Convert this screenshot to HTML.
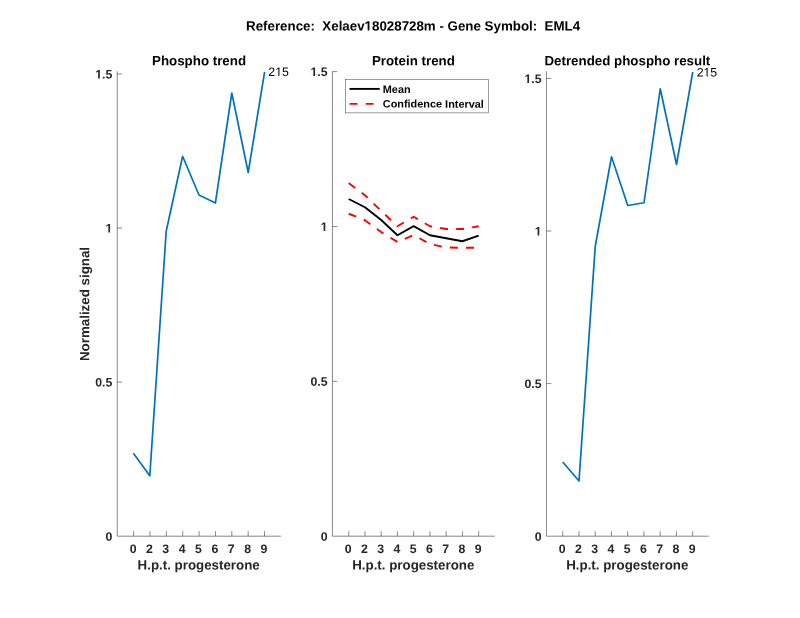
<!DOCTYPE html>
<html><head><meta charset="utf-8"><title>Reference: Xelaev18028728m - Gene Symbol: EML4</title>
<style>html,body{margin:0;padding:0;background:#fff;}body{width:800px;height:618px;overflow:hidden;}svg{display:block;}text{font-family:"Liberation Sans", Arial, Helvetica, sans-serif;}.b{font-weight:bold;}.t{font-size:12.3px;fill:#262626;font-weight:bold;}.l{font-size:13.33px;fill:#262626;font-weight:bold;}.k{fill:#000}</style></head><body>
<svg width="800" height="618" viewBox="0 0 800 618">
<rect width="800" height="618" fill="#fff"/>
<g transform="rotate(0.03 413.10 30.50)"><text x="413.10" y="30.50" class="l k" text-anchor="middle" style="white-space:pre">Reference:  Xelaev18028728m - Gene Symbol:  EML4</text><rect x="365.016" y="28.790" width="2.672" height="2.510" fill="#fff"/><rect x="369.517" y="28.790" width="2.502" height="2.510" fill="#fff"/></g>
<g stroke="#262626" stroke-width="0.55" fill="none">
<path d="M117.25 71.3V536.2H280.9"/>
<path d="M133.62 536.2v-5.1M149.98 536.2v-5.1M166.34 536.2v-5.1M182.71 536.2v-5.1M199.07 536.2v-5.1M215.44 536.2v-5.1M231.81 536.2v-5.1M248.17 536.2v-5.1M264.53 536.2v-5.1M117.25 382.13h4.8M117.25 228.07h4.8M117.25 74.00h4.8"/></g>
<text x="133.06" y="553.00" transform="rotate(0.03 133.06 553.00)" class="t" text-anchor="middle">0</text>
<text x="149.43" y="553.00" transform="rotate(0.03 149.43 553.00)" class="t" text-anchor="middle">2</text>
<text x="165.79" y="553.00" transform="rotate(0.03 165.79 553.00)" class="t" text-anchor="middle">3</text>
<text x="182.16" y="553.00" transform="rotate(0.03 182.16 553.00)" class="t" text-anchor="middle">4</text>
<text x="198.52" y="553.00" transform="rotate(0.03 198.52 553.00)" class="t" text-anchor="middle">5</text>
<text x="214.89" y="553.00" transform="rotate(0.03 214.89 553.00)" class="t" text-anchor="middle">6</text>
<text x="231.25" y="553.00" transform="rotate(0.03 231.25 553.00)" class="t" text-anchor="middle">7</text>
<text x="247.62" y="553.00" transform="rotate(0.03 247.62 553.00)" class="t" text-anchor="middle">8</text>
<text x="263.98" y="553.00" transform="rotate(0.03 263.98 553.00)" class="t" text-anchor="middle">9</text>
<text x="112.35" y="540.70" transform="rotate(0.03 112.35 540.70)" class="t" text-anchor="end">0</text>
<text x="112.35" y="386.63" transform="rotate(0.03 112.35 386.63)" class="t" text-anchor="end">0.5</text>
<g transform="rotate(0.03 112.35 232.57)"><text x="112.35" y="232.57" class="t" text-anchor="end">1</text><rect x="105.881" y="230.961" width="2.496" height="2.405" fill="#fff"/><rect x="110.065" y="230.961" width="2.340" height="2.405" fill="#fff"/></g>
<g transform="rotate(0.03 112.35 78.50)"><text x="112.35" y="78.50" class="t" text-anchor="end">1.5</text><rect x="95.615" y="76.895" width="2.496" height="2.405" fill="#fff"/><rect x="99.799" y="76.895" width="2.340" height="2.405" fill="#fff"/></g>
<text x="198.67" y="569.60" transform="rotate(0.03 198.67 569.60)" class="l" text-anchor="middle">H.p.t. progesterone</text>
<text x="199.07" y="65.30" transform="rotate(0.03 199.07 65.30)" class="l k" text-anchor="middle">Phospho trend</text>
<g stroke="#262626" stroke-width="0.55" fill="none">
<path d="M332.45 71.6V536.2H494.9"/>
<path d="M348.69 536.2v-5.1M364.94 536.2v-5.1M381.19 536.2v-5.1M397.43 536.2v-5.1M413.67 536.2v-5.1M429.92 536.2v-5.1M446.16 536.2v-5.1M462.41 536.2v-5.1M478.65 536.2v-5.1M332.45 381.33h4.8M332.45 226.47h4.8M332.45 71.60h4.8"/></g>
<text x="348.14" y="553.00" transform="rotate(0.03 348.14 553.00)" class="t" text-anchor="middle">0</text>
<text x="364.39" y="553.00" transform="rotate(0.03 364.39 553.00)" class="t" text-anchor="middle">2</text>
<text x="380.63" y="553.00" transform="rotate(0.03 380.63 553.00)" class="t" text-anchor="middle">3</text>
<text x="396.88" y="553.00" transform="rotate(0.03 396.88 553.00)" class="t" text-anchor="middle">4</text>
<text x="413.12" y="553.00" transform="rotate(0.03 413.12 553.00)" class="t" text-anchor="middle">5</text>
<text x="429.37" y="553.00" transform="rotate(0.03 429.37 553.00)" class="t" text-anchor="middle">6</text>
<text x="445.61" y="553.00" transform="rotate(0.03 445.61 553.00)" class="t" text-anchor="middle">7</text>
<text x="461.86" y="553.00" transform="rotate(0.03 461.86 553.00)" class="t" text-anchor="middle">8</text>
<text x="478.10" y="553.00" transform="rotate(0.03 478.10 553.00)" class="t" text-anchor="middle">9</text>
<text x="327.55" y="540.70" transform="rotate(0.03 327.55 540.70)" class="t" text-anchor="end">0</text>
<text x="327.55" y="385.83" transform="rotate(0.03 327.55 385.83)" class="t" text-anchor="end">0.5</text>
<g transform="rotate(0.03 327.55 230.97)"><text x="327.55" y="230.97" class="t" text-anchor="end">1</text><rect x="321.081" y="229.361" width="2.496" height="2.405" fill="#fff"/><rect x="325.265" y="229.361" width="2.340" height="2.405" fill="#fff"/></g>
<g transform="rotate(0.03 327.55 76.10)"><text x="327.55" y="76.10" class="t" text-anchor="end">1.5</text><rect x="310.815" y="74.495" width="2.496" height="2.405" fill="#fff"/><rect x="314.999" y="74.495" width="2.340" height="2.405" fill="#fff"/></g>
<text x="413.27" y="569.60" transform="rotate(0.03 413.27 569.60)" class="l" text-anchor="middle">H.p.t. progesterone</text>
<text x="413.37" y="65.30" transform="rotate(0.03 413.37 65.30)" class="l k" text-anchor="middle">Protein trend</text>
<g stroke="#262626" stroke-width="0.55" fill="none">
<path d="M546.45 71.2V536.2H708.9"/>
<path d="M562.70 536.2v-5.1M578.94 536.2v-5.1M595.19 536.2v-5.1M611.43 536.2v-5.1M627.67 536.2v-5.1M643.92 536.2v-5.1M660.16 536.2v-5.1M676.41 536.2v-5.1M692.65 536.2v-5.1M546.45 383.60h4.8M546.45 231.00h4.8M546.45 78.40h4.8"/></g>
<text x="562.15" y="553.00" transform="rotate(0.03 562.15 553.00)" class="t" text-anchor="middle">0</text>
<text x="578.39" y="553.00" transform="rotate(0.03 578.39 553.00)" class="t" text-anchor="middle">2</text>
<text x="594.64" y="553.00" transform="rotate(0.03 594.64 553.00)" class="t" text-anchor="middle">3</text>
<text x="610.88" y="553.00" transform="rotate(0.03 610.88 553.00)" class="t" text-anchor="middle">4</text>
<text x="627.12" y="553.00" transform="rotate(0.03 627.12 553.00)" class="t" text-anchor="middle">5</text>
<text x="643.37" y="553.00" transform="rotate(0.03 643.37 553.00)" class="t" text-anchor="middle">6</text>
<text x="659.62" y="553.00" transform="rotate(0.03 659.62 553.00)" class="t" text-anchor="middle">7</text>
<text x="675.86" y="553.00" transform="rotate(0.03 675.86 553.00)" class="t" text-anchor="middle">8</text>
<text x="692.11" y="553.00" transform="rotate(0.03 692.11 553.00)" class="t" text-anchor="middle">9</text>
<text x="541.55" y="540.70" transform="rotate(0.03 541.55 540.70)" class="t" text-anchor="end">0</text>
<text x="541.55" y="388.10" transform="rotate(0.03 541.55 388.10)" class="t" text-anchor="end">0.5</text>
<g transform="rotate(0.03 541.55 235.50)"><text x="541.55" y="235.50" class="t" text-anchor="end">1</text><rect x="535.081" y="233.895" width="2.496" height="2.405" fill="#fff"/><rect x="539.265" y="233.895" width="2.340" height="2.405" fill="#fff"/></g>
<g transform="rotate(0.03 541.55 82.90)"><text x="541.55" y="82.90" class="t" text-anchor="end">1.5</text><rect x="524.815" y="81.295" width="2.496" height="2.405" fill="#fff"/><rect x="528.999" y="81.295" width="2.340" height="2.405" fill="#fff"/></g>
<text x="627.27" y="569.60" transform="rotate(0.03 627.27 569.60)" class="l" text-anchor="middle">H.p.t. progesterone</text>
<text x="627.38" y="65.30" transform="rotate(0.03 627.38 65.30)" class="l k" text-anchor="middle">Detrended phospho result</text>
<text x="89.25" y="304.00" transform="rotate(-89.97 89.25 304.00)" class="l" text-anchor="middle">Normalized signal</text>
<polyline points="133.40,453.25 149.80,475.75 166.20,231.25 182.60,156.25 199.00,195.00 215.40,203.00 231.80,93.00 248.20,172.50 264.60,71.80" fill="none" stroke="#0072BD" stroke-width="1.7" stroke-linejoin="round"/>
<polyline points="562.75,462.00 579.00,481.00 595.25,246.25 611.50,156.75 627.75,205.50 644.00,202.75 660.25,88.75 676.50,164.50 692.75,72.00" fill="none" stroke="#0072BD" stroke-width="1.7" stroke-linejoin="round"/>
<g transform="rotate(0.03 268.30 76.10)"><text x="268.30" y="76.10" class="k" style="font-size:12.3px">215</text><rect x="275.665" y="74.831" width="2.556" height="2.069" fill="#fff"/><rect x="279.308" y="74.831" width="2.460" height="2.069" fill="#fff"/></g>
<g transform="rotate(0.03 696.70 76.40)"><text x="696.70" y="76.40" class="k" style="font-size:12.3px">215</text><rect x="704.065" y="75.131" width="2.556" height="2.069" fill="#fff"/><rect x="707.708" y="75.131" width="2.460" height="2.069" fill="#fff"/></g>
<polyline points="348.70,199.00 364.94,207.25 381.19,220.00 397.44,235.25 413.68,226.10 429.93,235.25 446.17,238.25 462.41,241.25 478.66,235.60" fill="none" stroke="#000" stroke-width="1.9" stroke-linejoin="round"/>
<polyline points="348.70,183.10 364.94,195.25 381.19,210.90 397.44,226.25 413.68,216.80 429.93,226.25 446.17,229.00 462.41,229.00 478.66,226.25" fill="none" stroke="#f00" stroke-width="1.9" stroke-dasharray="8 8.15" stroke-linejoin="round"/>
<polyline points="348.70,213.75 364.94,220.25 381.19,232.10 397.44,241.90 413.68,235.10 429.93,244.00 446.17,247.50 462.41,247.75 478.66,247.75" fill="none" stroke="#f00" stroke-width="1.9" stroke-dasharray="8 8.15" stroke-linejoin="round"/>
<rect x="345.3" y="79.3" width="143.4" height="33.6" fill="#fff" stroke="#262626" stroke-width="0.45"/>
<path d="M349.5 88.9H379.7" stroke="#000" stroke-width="1.9"/>
<path d="M349.6 103.9H379.7" stroke="#f00" stroke-width="1.9" stroke-dasharray="7.9 8.2"/>
<text x="382.80" y="92.90" transform="rotate(0.03 382.80 92.90)" class="b k" style="font-size:10.9px">Mean</text>
<text x="382.80" y="107.60" transform="rotate(0.03 382.80 107.60)" class="b k" style="font-size:10.9px">Confidence Interval</text>
</svg></body></html>
